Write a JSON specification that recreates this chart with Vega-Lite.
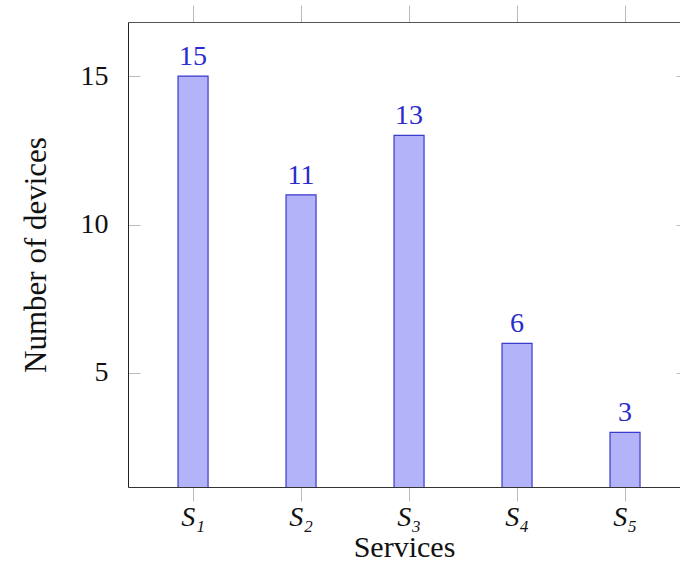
{
  "$schema": "https://vega.github.io/schema/vega-lite/v6.json",
  "width": 552,
  "height": 465,
  "autosize": {"type": "none"},
  "padding": {"left": 128, "top": 22, "right": 0, "bottom": 77},
  "config": {"view": {"stroke": null}, "font": "Liberation Serif", "text": {"font": "Liberation Serif"}},
  "data": {"values": [
    {"service": "S₁", "devices": 15},
    {"service": "S₂", "devices": 11},
    {"service": "S₃", "devices": 13},
    {"service": "S₄", "devices": 6},
    {"service": "S₅", "devices": 3}
  ]},
  "layer": [
    {
      "mark": {"type": "bar", "fill": "#b3b3fa", "stroke": "#3a3acc", "strokeWidth": 1.2, "clip": true},
      "encoding": {
        "x": {"field": "service", "type": "nominal", "sort": null,
          "scale": {"paddingInner": 0.722, "paddingOuter": 0.4167, "align": 0.556},
          "axis": {"orient": "bottom", "domainColor": "#333", "tickColor": "#bbbbbb", "tickSize": 14,
            "labelFont": "Liberation Serif", "labelFontSize": 28, "labelFontStyle": "italic", "labelColor": "#111", "labelPadding": 2, "labelAngle": 0,
            "title": "Services", "titleFont": "Liberation Serif", "titleFontSize": 30, "titleFontWeight": "normal", "titleColor": "#111", "titlePadding": 1}},
        "y": {"field": "devices", "type": "quantitative",
          "scale": {"domain": [1.16, 16.82], "nice": false, "zero": false},
          "axis": {"orient": "left", "values": [5, 10, 15], "grid": false, "domainColor": "#222", "tickColor": "#bbbbbb", "tickSize": -12,
            "labelFont": "Liberation Serif", "labelFontSize": 28, "labelColor": "#111", "labelPadding": 32,
            "title": "Number of devices", "titleFont": "Liberation Serif", "titleFontSize": 31, "titleFontWeight": "normal", "titleColor": "#111", "titlePadding": 28}}
      }
    },
    {
      "mark": {"type": "text", "font": "Liberation Serif", "baseline": "alphabetic", "dy": -11, "fontSize": 28, "color": "#2b2bcc"},
      "encoding": {
        "text": {"field": "devices", "type": "quantitative"},
        "x": {"field": "service", "type": "nominal", "sort": null,
          "axis": {"orient": "top", "labels": false, "title": null, "domainColor": "#555", "tickColor": "#bbbbbb", "tickSize": 17}},
        "y": {"field": "devices", "type": "quantitative",
          "axis": {"orient": "right", "values": [5, 10, 15], "grid": false, "labels": false, "title": null, "domain": false,
            "tickColor": "#bbbbbb", "tickSize": -13, "offset": 9}}
      }
    }
  ],
  "resolve": {"axis": {"x": "independent", "y": "independent"}}
}
